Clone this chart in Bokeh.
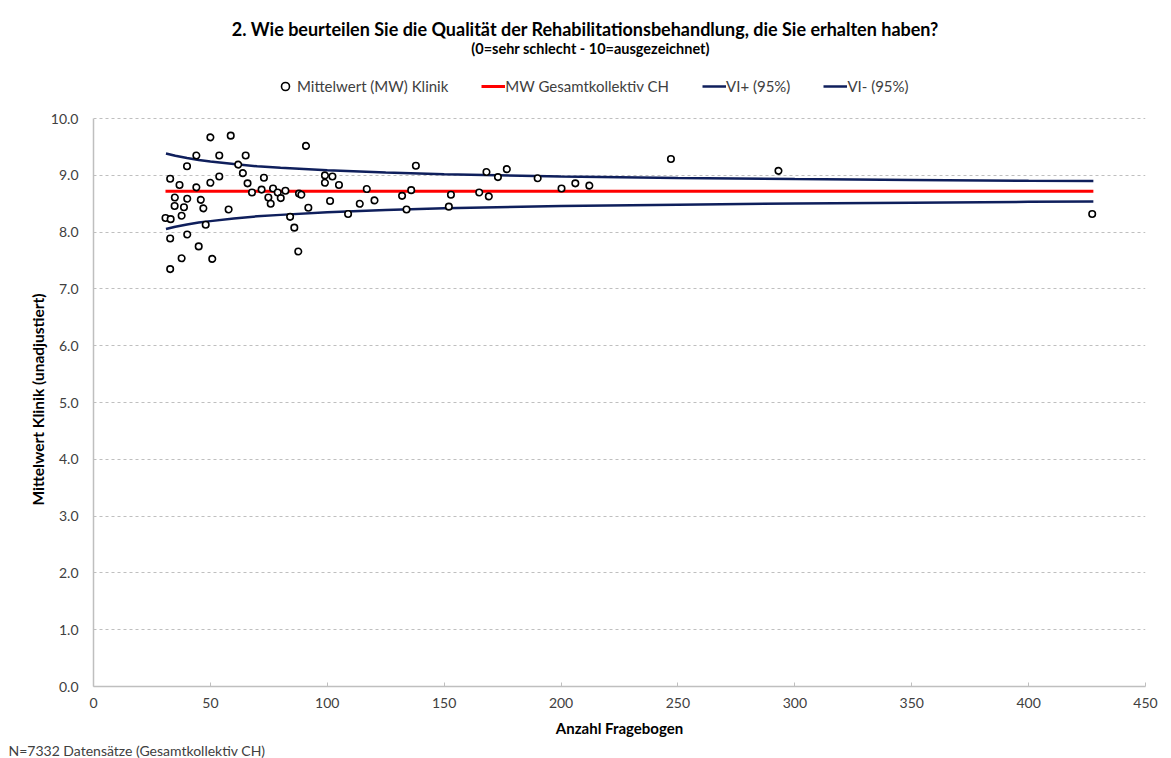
from bokeh.plotting import figure
from bokeh.models import Legend, LegendItem, Title, Label, Range1d, FixedTicker, NumeralTickFormatter
from bokeh.embed import file_html
from bokeh.resources import INLINE

# --- data ---
n_fragebogen = [30.8, 32.8, 33.0, 32.8, 32.8, 34.7, 34.8, 36.8, 37.7, 37.7, 38.7, 40.0, 40.1, 40.1,
                44.0, 44.0, 45.0, 45.9, 47.0, 48.0, 50.0, 50.0, 50.8, 53.8, 53.8, 57.8, 58.7, 61.9,
                63.9, 65.1, 65.9, 67.8, 71.9, 72.9, 74.8, 75.8, 76.8, 78.8, 80.1, 82.1, 84.1, 85.9,
                87.6, 87.9, 88.9, 90.9, 91.9, 99.0, 99.0, 101.2, 102.2, 105.0, 108.9, 113.9, 116.9,
                120.2, 132.0, 133.9, 135.9, 137.9, 152.0, 152.9, 165.0, 168.1, 169.1, 173.0, 176.8,
                190.0, 200.2, 206.1, 212.1, 247.0, 293.0, 427.2]
mw_klinik = [8.25, 8.94, 8.23, 7.89, 7.35, 8.46, 8.61, 8.83, 8.29, 7.54, 8.44, 9.16, 8.59, 7.96,
             9.35, 8.79, 7.75, 8.57, 8.42, 8.13, 9.67, 8.87, 7.53, 9.35, 8.98, 8.40, 9.70, 9.19,
             9.04, 9.35, 8.86, 8.70, 8.75, 8.96, 8.61, 8.50, 8.77, 8.70, 8.60, 8.73, 8.27, 8.08,
             7.66, 8.68, 8.66, 9.52, 8.43, 9.00, 8.87, 8.55, 8.98, 8.83, 8.32, 8.50, 8.76, 8.56,
             8.64, 8.40, 8.74, 9.17, 8.45, 8.66, 8.70, 9.06, 8.63, 8.97, 9.11, 8.95, 8.77, 8.86,
             8.82, 9.29, 9.08, 8.32]

mw_gesamt_x = [30.8, 427.7]
mw_gesamt_y = [8.72, 8.72]

vi_x = [31, 35, 40, 45, 50, 60, 70, 80, 100, 125, 150, 200, 250, 300, 350, 400, 427.7]
vi_plus = [9.385, 9.345, 9.305, 9.27, 9.245, 9.20, 9.16, 9.135, 9.09, 9.05, 9.02, 8.98, 8.955,
           8.935, 8.92, 8.905, 8.90]
vi_minus = [8.055, 8.095, 8.135, 8.17, 8.195, 8.24, 8.28, 8.305, 8.35, 8.39, 8.42, 8.46, 8.485,
            8.505, 8.52, 8.535, 8.54]

x_ticks = [0, 50, 100, 150, 200, 250, 300, 350, 400, 450]
y_ticks = [0, 1, 2, 3, 4, 5, 6, 7, 8, 9, 10]

title_text = "2. Wie beurteilen Sie die Qualität der Rehabilitationsbehandlung,  die Sie erhalten haben?"
subtitle_text = "(0=sehr schlecht - 10=ausgezeichnet)"
y_label = "Mittelwert Klinik (unadjustiert)"
x_label = "Anzahl Fragebogen"
foot_text = "N=7332 Datensätze (Gesamtkollektiv CH)"

FONT = "Lato"
TXT = "#404040"

# frame spans the full height above the x axis; the value axis is bounded to 0..10
p = figure(width=1171, height=758, output_backend="svg", toolbar_location=None,
           x_range=Range1d(0, 450), y_range=Range1d(0, 12.08),
           min_border_left=93, min_border_right=26, min_border_top=0, min_border_bottom=72,
           title=None)
p.outline_line_color = None
p.background_fill_color = "white"
p.border_fill_color = "white"

# grid
p.xgrid.grid_line_color = None
p.ygrid.ticker = FixedTicker(ticks=y_ticks)
p.ygrid.grid_line_color = "#bfbfbf"
p.ygrid.grid_line_dash = "3 3"
p.ygrid.grid_line_width = 1

# axes
p.xaxis.ticker = FixedTicker(ticks=x_ticks)
p.yaxis.ticker = FixedTicker(ticks=y_ticks)
p.yaxis.formatter = NumeralTickFormatter(format="0.0")
p.yaxis.bounds = (0, 10)
for ax in (p.xaxis[0], p.yaxis[0]):
    ax.axis_line_color = "#bfbfbf"
    ax.axis_line_width = 1.5
    ax.major_label_text_font = FONT
    ax.major_label_text_font_size = "14px"
    ax.major_label_text_color = TXT
    ax.minor_tick_line_color = None
    ax.axis_label_text_font = FONT
    ax.axis_label_text_font_style = "bold"
    ax.axis_label_text_font_size = "15px"
    ax.axis_label_text_color = "#000000"
p.xaxis.major_tick_in = 4
p.xaxis.major_tick_out = 0
p.xaxis.major_tick_line_color = "#bfbfbf"
p.xaxis.major_label_standoff = 11
p.yaxis.major_tick_line_color = None
p.yaxis.major_tick_out = 0
p.yaxis.major_tick_in = 0
p.yaxis.major_label_standoff = 15
p.xaxis.axis_label = x_label
p.xaxis.axis_label_standoff = 8

ytitle = Title(text=y_label, align="left", offset=181, standoff=2,
               text_font=FONT, text_font_size="15.5px", text_font_style="bold", text_color="#000000")
p.add_layout(ytitle, "left")

# glyphs
r_mw = p.line(mw_gesamt_x, mw_gesamt_y, line_color="#ff0000", line_width=3)
r_vp = p.line(vi_x, vi_plus, line_color="#0f1f5c", line_width=2.5)
r_vm = p.line(vi_x, vi_minus, line_color="#0f1f5c", line_width=2.5)
r_pts = p.scatter(n_fragebogen, mw_klinik, marker="circle", size=6.5,
                  fill_color="white", line_color="#000000", line_width=1.6)

legend = Legend(items=[
    LegendItem(label="Mittelwert (MW) Klinik", renderers=[r_pts]),
    LegendItem(label="MW Gesamtkollektiv CH", renderers=[r_mw]),
    LegendItem(label="VI+ (95%)", renderers=[r_vp]),
    LegendItem(label="VI- (95%)", renderers=[r_vm]),
], orientation="horizontal", location=(180, 590))
legend.label_text_font = FONT
legend.label_text_font_size = "15px"
legend.label_text_color = TXT
legend.border_line_color = None
legend.background_fill_alpha = 0
legend.glyph_width = 24
legend.label_standoff = 0
legend.spacing = 33
legend.padding = 4
legend.margin = 0
p.add_layout(legend, "center")

p.add_layout(Label(x=494, y=658, x_units="screen", y_units="screen", text=title_text,
                   text_align="center", text_baseline="middle", text_font=FONT,
                   text_font_size="18px", text_font_style="bold", text_color="#000000"))
p.add_layout(Label(x=497, y=638, x_units="screen", y_units="screen", text=subtitle_text,
                   text_align="center", text_baseline="middle", text_font=FONT,
                   text_font_size="14.5px", text_font_style="bold", text_color="#000000"))

foot = Title(text=foot_text, align="left", offset=-85, standoff=0,
             text_font=FONT, text_font_size="14px", text_font_style="normal", text_color=TXT)
p.add_layout(foot, "below")

open("out.html", "w").write(file_html(p, INLINE))
